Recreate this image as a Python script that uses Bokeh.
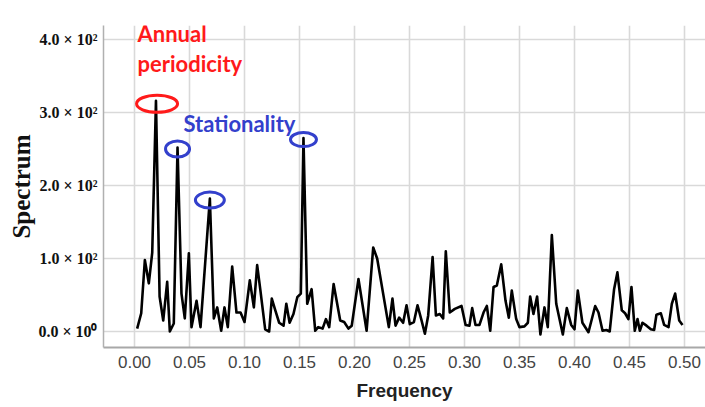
from bokeh.plotting import figure
from bokeh.models import (FixedTicker, CustomJSTickFormatter, NumeralTickFormatter,
                          Label, Range1d)
from bokeh.embed import file_html
from bokeh.resources import INLINE

# ---- data ----
frequency = [0.0024, 0.0061, 0.0094, 0.0130, 0.0161, 0.0195, 0.0228, 0.0261, 0.0297, 0.0321,
             0.0357, 0.0391, 0.0427, 0.0457, 0.0494, 0.0518, 0.0564, 0.0600, 0.0685, 0.0721,
             0.0752, 0.0788, 0.0818, 0.0848, 0.0888, 0.0927, 0.0964, 0.1000, 0.1048, 0.1085,
             0.1115, 0.1143, 0.1188, 0.1224, 0.1248, 0.1280, 0.1315, 0.1355, 0.1380, 0.1410,
             0.1445, 0.1480, 0.1512, 0.1536, 0.1570, 0.1610, 0.1643, 0.1670, 0.1710, 0.1740,
             0.1770, 0.1810, 0.1870, 0.1906, 0.1945, 0.1975, 0.2036, 0.2110, 0.2170, 0.2206,
             0.2312, 0.2345, 0.2373, 0.2406, 0.2442, 0.2473, 0.2503, 0.2540, 0.2573, 0.2610,
             0.2640, 0.2670, 0.2710, 0.2740, 0.2775, 0.2806, 0.2830, 0.2866, 0.2912, 0.2973,
             0.3010, 0.3045, 0.3070, 0.3100, 0.3136, 0.3173, 0.3203, 0.3234, 0.3264, 0.3294,
             0.3334, 0.3373, 0.3403, 0.3430, 0.3470, 0.3500, 0.3545, 0.3576, 0.3597, 0.3627,
             0.3660, 0.3690, 0.3727, 0.3757, 0.3794, 0.3834, 0.3894, 0.3930, 0.3970, 0.4000,
             0.4030, 0.4072, 0.4127, 0.4188, 0.4218, 0.4255, 0.4290, 0.4320, 0.4360, 0.4390,
             0.4430, 0.4460, 0.4490, 0.4518, 0.4548, 0.4573, 0.4594, 0.4618, 0.4655, 0.4694,
             0.4724, 0.4745, 0.4785, 0.4815, 0.4855, 0.4885, 0.4915, 0.4952, 0.4982]
spectrum = [4, 25, 98, 66, 108, 316, 48, 15, 68, 0,
            11, 252, 52, 18, 107, 6, 42, 6, 182, 18,
            33, 1, 33, 6, 89, 26, 26, 13, 70, 33,
            91, 58, 3, 0, 45, 29, 12, 8, 38, 12,
            24, 47, 52, 265, 38, 58, 1, 6, 4, 17,
            6, 65, 15, 13, 4, 8, 72, 1, 115, 100,
            6, 45, 8, 19, 12, 36, 10, 13, 36, 15,
            -3, 22, 102, 22, 24, 18, 110, 26, 31, 35,
            9, 8, 32, 9, 9, 26, 35, 1, 61, 63,
            92, 42, 19, 56, 17, 6, 7, 12, 48, 24,
            48, -4, 33, 6, 132, 38, -4, 32, 9, 3,
            56, 12, -1, 35, 26, 1, 2, 0, 58, 81,
            29, 25, 17, 61, 1, 17, 1, 12, 8, 3,
            2, 23, 25, 9, 6, 38, 52, 15, 9]

x_ticks = [0.00, 0.05, 0.10, 0.15, 0.20, 0.25, 0.30, 0.35, 0.40, 0.45, 0.50]
y_ticks = [0, 100, 200, 300, 400]

x_title = "Frequency"
y_title = "Spectrum"
annual_text = ["Annual", "periodicity"]
station_text = "Stationality"

# ---- figure ----
W, H = 705, 407
p = figure(width=W, height=H, output_backend="svg", toolbar_location=None,
           x_range=Range1d(-0.0282, 0.5191), y_range=Range1d(-21.9, 419.2),
           min_border_left=103, min_border_right=0, min_border_top=25, min_border_bottom=60)
p.outline_line_color = None
p.background_fill_color = "white"

p.line(frequency, spectrum, line_color="black", line_width=2.6, line_join="round")

# grid
for g in (p.xgrid, p.ygrid):
    g.grid_line_color = "#d9d9d9"
    g.grid_line_width = 1.6
p.xgrid.ticker = FixedTicker(ticks=x_ticks)
p.ygrid.ticker = FixedTicker(ticks=y_ticks)

# x axis
xa = p.xaxis[0]
xa.ticker = FixedTicker(ticks=x_ticks)
xa.formatter = NumeralTickFormatter(format="0.00")
xa.axis_line_color = "#a8a8a8"
xa.axis_line_width = 2
xa.major_tick_out = 0
xa.major_tick_in = 0
xa.minor_tick_out = 0
xa.minor_tick_in = 0
xa.major_label_standoff = 8
xa.major_label_text_font = "Liberation Sans"
xa.major_label_text_font_size = "17px"
xa.major_label_text_color = "#444444"
xa.axis_label = x_title
xa.axis_label_text_font = "Liberation Sans"
xa.axis_label_text_font_style = "bold"
xa.axis_label_text_font_size = "19px"
xa.axis_label_text_color = "#222222"
xa.axis_label_standoff = 9

# y axis
ya = p.yaxis[0]
ya.ticker = FixedTicker(ticks=y_ticks)
ya.formatter = CustomJSTickFormatter(code="""
    if (tick == 0) { return "0.0 \u00d7 10\u2070"; }
    const e = Math.floor(Math.log10(Math.abs(tick)) + 1e-9);
    const m = tick / Math.pow(10, e);
    const sup = {0: "\u2070", 1: "\u00b9", 2: "\u00b2", 3: "\u00b3"};
    return m.toFixed(1) + " \u00d7 10" + sup[e];
""")
ya.axis_line_color = "#b0b0b0"
ya.axis_line_width = 1.5
ya.major_tick_out = 0
ya.major_tick_in = 0
ya.minor_tick_out = 0
ya.minor_tick_in = 0
ya.major_label_standoff = 6
ya.major_label_text_font = "Liberation Serif"
ya.major_label_text_font_style = "bold"
ya.major_label_text_font_size = "16px"
ya.major_label_text_color = "#111111"
ya.axis_label = y_title
ya.axis_label_text_font = "Liberation Serif"
ya.axis_label_text_font_style = "bold"
ya.axis_label_text_font_size = "25px"
ya.axis_label_text_color = "#111111"
ya.axis_label_standoff = 0

# ---- annotations around the four largest peaks ----
order = sorted(range(len(spectrum)), key=lambda i: spectrum[i], reverse=True)[:4]
order_by_freq = sorted(order, key=lambda i: frequency[i])
annual_idx = max(order, key=lambda i: spectrum[i])
station_idx = [i for i in order_by_freq if i != annual_idx]

RED = "#ff1a1a"
BLUE = "#3340cc"

p.ellipse([frequency[annual_idx] + 0.001], [spectrum[annual_idx] - 4], width=41, height=17,
          width_units="screen", height_units="screen",
          fill_color=None, line_color=RED, line_width=3)
ell_w = [24, 29, 26]
ell_h = [16, 16, 14]
p.ellipse([frequency[i] for i in station_idx], [spectrum[i] - 2 for i in station_idx],
          width=ell_w, height=ell_h, width_units="screen", height_units="screen",
          fill_color=None, line_color=BLUE, line_width=3)

lab_font = "Lato"
p.add_layout(Label(x=0.0027, y=408, text=annual_text[0],
                   text_font=lab_font, text_font_style="bold", text_font_size="22px",
                   text_color=RED, text_baseline="alphabetic"))
p.add_layout(Label(x=0.0027, y=367, text=annual_text[1],
                   text_font=lab_font, text_font_style="bold", text_font_size="22px",
                   text_color=RED, text_baseline="alphabetic"))
p.add_layout(Label(x=0.0445, y=285, text=station_text,
                   text_font=lab_font, text_font_style="bold", text_font_size="22px",
                   text_color=BLUE, text_baseline="alphabetic"))

open("out.html", "w").write(file_html(p, INLINE))
